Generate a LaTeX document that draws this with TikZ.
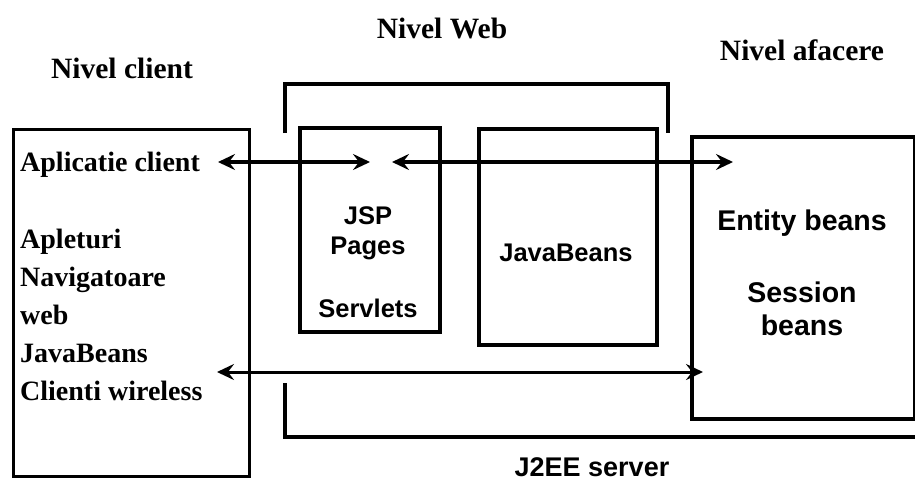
\documentclass[tikz,border=0pt]{standalone}
\usepackage{fontspec}
\setmainfont{Liberation Serif}
\setsansfont{Liberation Sans}
\usetikzlibrary{arrows.meta}
\begin{document}
\begin{tikzpicture}[x=1pt,y=-1pt,
  tier/.style={font=\bfseries\fontsize{29.5}{34}\selectfont},
  item/.style={font=\bfseries\fontsize{28}{38}\selectfont, inner sep=0pt, anchor=base west},
  comp/.style={font=\sffamily\bfseries\fontsize{25.5}{30}\selectfont, inner sep=0pt, align=center},
  bizcomp/.style={comp, font=\sffamily\bfseries\fontsize{28.5}{33}\selectfont},
  box/.style={draw, line width=3.5pt, inner sep=0pt},
  link/.style={line width=3.5pt, {Stealth[length=17pt,width=16pt,inset=6pt]}-{Stealth[length=17pt,width=16pt,inset=6pt]}},
  frame/.style={line width=4pt}]
\useasboundingbox (0,0) rectangle (915,483);

% tier titles
\node[tier] (tclient) at (122,68) {Nivel client};
\node[tier] (tweb) at (442,28) {Nivel Web};
\node[tier] (tbiz) at (802,50) {Nivel afacere};

% boxes
\node[box, line width=3pt, anchor=north west, minimum width=236pt, minimum height=347pt] (client) at (12,128) {};
\node[box, anchor=north west, minimum width=140pt, minimum height=204pt] (jsp) at (298,126) {};
\node[box, anchor=north west, minimum width=178pt, minimum height=216pt] (jb) at (477,127) {};
\node[box, line width=4pt, anchor=north west, minimum width=223pt, minimum height=282pt] (biz) at (690,135) {};

% web tier bracket
\coordinate (wl) at (285,133);
\coordinate (wr) at (668,133);
\draw[frame] (wl) |- (442,84) -| (wr);

% J2EE server bracket
\coordinate (sl) at (285,383);
\coordinate (sr) at (915,437);
\draw[frame, line width=4.5pt] (sl) |- (sr);
\node[comp, font=\sffamily\bfseries\fontsize{27}{32}\selectfont] (server) at (592,467) {J2EE server};

% client box contents
\node[item] (app) at (20,171) {Aplicatie client};
\node[item] (l1) at (20,248) {Apleturi};
\node[item] (l2) at (20,286) {Navigatoare};
\node[item] (l3) at (20,324) {web};
\node[item] (l4) at (20,362) {JavaBeans};
\node[item] (l5) at (20,400) {Clienti wireless};

% web components
\node[comp] (jsptxt) at (368,233) {JSP\\Pages};
\node[comp] (serv) at (368,308) {Servlets};
\node[comp] (jbtxt) at (566,253) {JavaBeans};

% business components
\node[bizcomp] (ent) at (802,223) {Entity beans};
\node[bizcomp] (sess) at (802,309) {Session\\beans};

% connectors
\coordinate (a1) at (218,162);
\coordinate (a2) at (370,162);
\coordinate (b1) at (392,162);
\coordinate (b2) at (733,162);
\coordinate (c1) at (217,372);
\coordinate (c2) at (703,372);
\draw[link] (a1) -- (a2);
\draw[link] (b1) -- (b2);
\draw[link, line width=3pt] (c1) -- (c2);
\end{tikzpicture}
\end{document}
